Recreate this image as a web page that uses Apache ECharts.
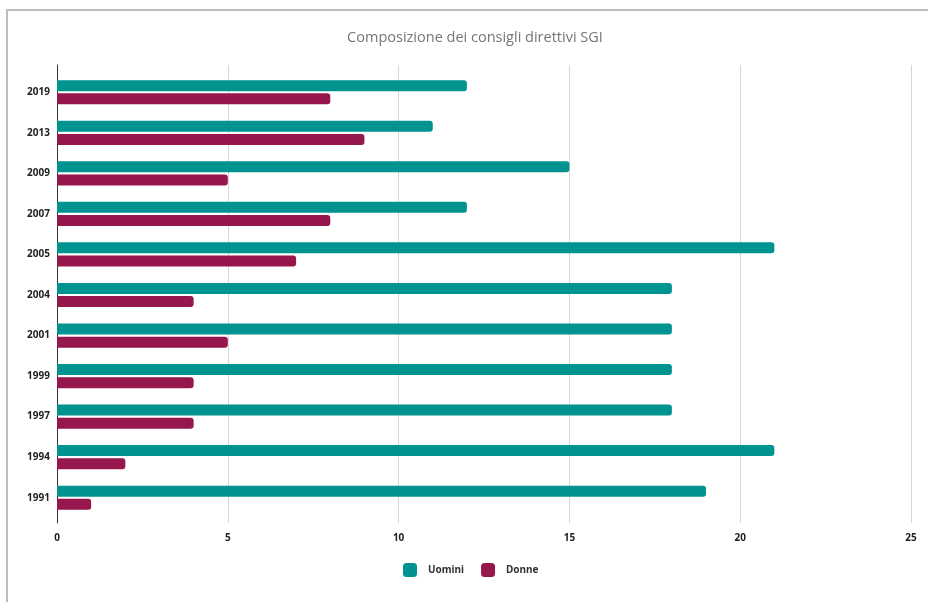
<!DOCTYPE html>
<html>
<head>
<meta charset="utf-8">
<script src="https://cdn.jsdelivr.net/npm/echarts@6/dist/echarts.min.js"></script>
<style>
  html, body { margin: 0; padding: 0; background: #fff; }
  #wrap { position: relative; width: 928px; height: 602px; overflow: hidden; }
  #frame { position: absolute; left: 6px; top: 9px; width: 1000px; height: 700px;
           border-left: 2px solid #bdbdbd; border-top: 2px solid #bdbdbd; }
  #chart { position: absolute; left: 0; top: 0; width: 928px; height: 602px; }
</style>
</head>
<body>
<div id="wrap">
  <div id="frame"></div>
  <div id="chart"></div>
</div>
<script>
// Board composition by year (top to bottom)
const years = ['2019', '2013', '2009', '2007', '2005', '2004', '2001', '1999', '1997', '1994', '1991'];
const uomini = [12, 11, 15, 12, 21, 18, 18, 18, 18, 21, 19];
const donne = [8, 9, 5, 8, 7, 4, 5, 4, 4, 2, 1];
const xTicks = [0, 5, 10, 15, 20, 25];

const labelFont = { fontFamily: 'Noto Sans', fontWeight: 'bold', color: '#222' };

const chart = echarts.init(document.getElementById('chart'));
chart.setOption({
  animation: false,
  title: {
    text: 'Composizione dei consigli direttivi SGI',
    left: 470, top: 25, textAlign: 'center',
    textStyle: { fontFamily: 'Open Sans', fontSize: 14.5, fontWeight: 'normal', color: '#757575' }
  },
  legend: {
    data: ['Uomini', 'Donne'],
    top: 563, left: 403, padding: 0,
    itemWidth: 14, itemHeight: 14, itemGap: 17,
    icon: 'roundRect',
    textStyle: Object.assign({ fontSize: 10, padding: [0, 0, 0, 6] }, labelFont, { color: '#333' })
  },
  // grid 0: frame of the plot (gridlines, value labels, vertical axis line)
  // grid 1: the bars, with category bands inset slightly from the frame
  grid: [
    { left: 57, right: 17, top: 65, bottom: 79 },
    { left: 57, right: 17, top: 72, bottom: 84 }
  ],
  xAxis: [
    {
      gridIndex: 0, type: 'value', min: xTicks[0], max: xTicks[xTicks.length - 1], interval: 5,
      axisLine: { show: false }, axisTick: { show: false },
      splitLine: { lineStyle: { color: '#d6d6d6', width: 1 } },
      axisLabel: Object.assign({ margin: 10, fontSize: 10 }, labelFont)
    },
    {
      gridIndex: 1, type: 'value', min: xTicks[0], max: xTicks[xTicks.length - 1], interval: 5,
      show: false
    }
  ],
  yAxis: [
    {
      gridIndex: 0, type: 'category', data: years, inverse: true,
      axisLine: { lineStyle: { color: '#333', width: 1 } },
      axisTick: { show: false }, axisLabel: { show: false }, splitLine: { show: false }
    },
    {
      gridIndex: 1, type: 'category', data: years, inverse: true,
      axisLine: { show: false }, axisTick: { show: false }, splitLine: { show: false },
      axisLabel: Object.assign({ margin: 7, fontSize: 10 }, labelFont)
    }
  ],
  series: [
    {
      name: 'Uomini', type: 'bar', data: uomini, xAxisIndex: 1, yAxisIndex: 1,
      barWidth: 11, barGap: '20%',
      itemStyle: { color: '#00938f', borderRadius: [0, 3, 3, 0] }
    },
    {
      name: 'Donne', type: 'bar', data: donne, xAxisIndex: 1, yAxisIndex: 1,
      barWidth: 11,
      itemStyle: { color: '#96164e', borderRadius: [0, 3, 3, 0] }
    }
  ]
});
</script>
</body>
</html>
